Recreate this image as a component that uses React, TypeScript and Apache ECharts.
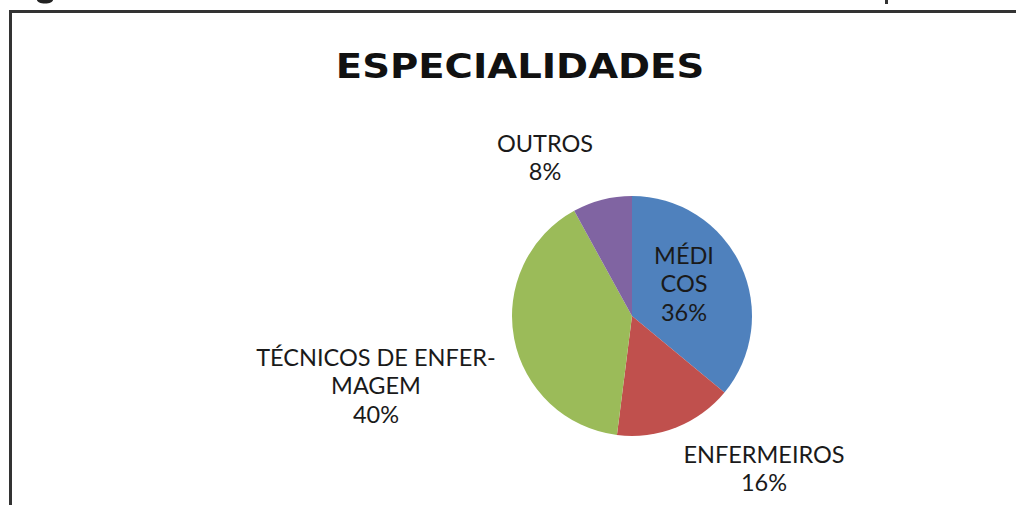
import React, { useEffect, useRef } from "react";
import * as echarts from "echarts";

const categories = ["MÉDICOS", "ENFERMEIROS", "TÉCNICOS DE ENFERMAGEM", "OUTROS"];
const displayNames = ["MÉDI\nCOS", "ENFERMEIROS", "TÉCNICOS DE ENFER-\nMAGEM", "OUTROS"];
const values = [36, 16, 40, 8];
const colors = ["#4F81BD", "#C0504D", "#9BBB59", "#8064A2"];
const titleText = "ESPECIALIDADES";

// label anchor positions (layout only)
const labelPos = [
  [684, 283],
  [764, 468],
  [376, 385],
  [545, 157],
];

export default function App() {
  const ref = useRef<HTMLDivElement>(null);
  useEffect(() => {
    const chart = echarts.init(ref.current!, null, { renderer: "svg" });
    chart.setOption({
      animation: false,
      backgroundColor: "#ffffff",
      graphic: [
        {
          type: "text",
          x: 520,
          y: 67,
          scaleX: 1.17,
          style: {
            text: titleText,
            x: 0,
            y: 0,
            align: "center",
            verticalAlign: "middle",
            fontFamily: "DejaVu Sans",
            fontWeight: "bold",
            fontSize: 33,
            fill: "#111111",
          },
        },
        {
          type: "polyline",
          shape: { points: [[10.5, 505], [10.5, 11.5], [1016, 11.5]] },
          style: { stroke: "#333333", lineWidth: 3, fill: null },
        },
        { type: "ellipse", shape: { cx: 45, cy: 0, rx: 8, ry: 3.5 }, style: { fill: "#222" } },
        { type: "rect", shape: { x: 885, y: 0, width: 3, height: 4 }, style: { fill: "#333" } },
      ],
      series: [
        {
          type: "pie",
          center: [632, 316],
          radius: 120,
          startAngle: 90,
          clockwise: true,
          label: {
            show: true,
            position: "inside",
            fontFamily: "Lato",
            fontSize: 23.5,
            lineHeight: 28.5,
            color: "#1a1a1a",
            align: "center",
            formatter: (p: any) => displayNames[p.dataIndex] + "\n" + Math.round(p.percent) + "%",
          },
          labelLine: { show: false },
          labelLayout: (p: any) => ({
            x: labelPos[p.dataIndex][0],
            y: labelPos[p.dataIndex][1],
            align: "center",
            verticalAlign: "middle",
          }),
          emphasis: { disabled: true },
          data: categories.map((c, i) => ({
            name: c,
            value: values[i],
            itemStyle: { color: colors[i] },
          })),
        },
      ],
    });
    return () => chart.dispose();
  }, []);
  return (
    <div
      ref={ref}
      style={{ position: "absolute", left: 0, top: 0, width: 1016, height: 505 }}
    />
  );
}
